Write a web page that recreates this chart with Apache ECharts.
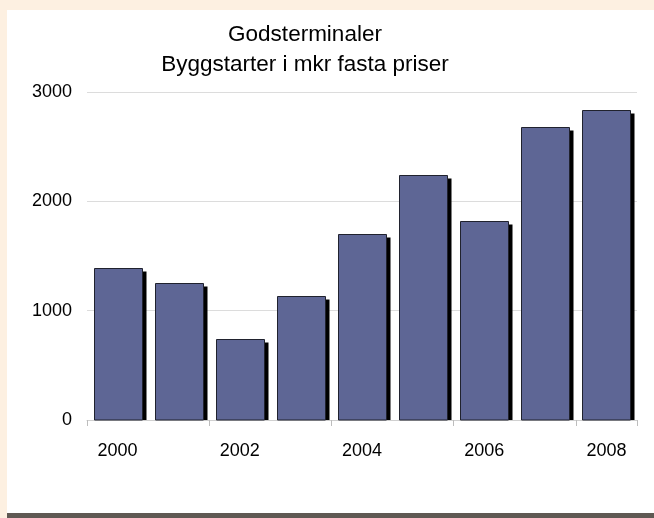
<!DOCTYPE html>
<html>
<head>
<meta charset="utf-8">
<script src="https://cdn.jsdelivr.net/npm/echarts@6/dist/echarts.min.js"></script>
<style>
  html, body { margin: 0; padding: 0; }
  body { width: 654px; height: 518px; background: #fdf0e1; position: relative; overflow: hidden; }
  #panel {
    position: absolute; left: 7px; top: 10px; width: 647px; height: 503px;
    background: #fff; border-bottom: 5px solid #5f5953;
  }
  #chart { width: 647px; height: 503px; }
</style>
</head>
<body>
<div id="panel"><div id="chart"></div></div>
<script>
// Godsterminaler, byggstarter i mkr fasta priser
const years = ["2000", "2001", "2002", "2003", "2004", "2005", "2006", "2007", "2008"];
const values = [1393, 1256, 738, 1137, 1702, 2239, 1823, 2678, 2839];
const yTicks = [0, 1000, 2000, 3000];

const chart = echarts.init(document.getElementById("chart"));
const font = "'Liberation Sans', Arial, sans-serif";
const barW = 48;

// bar with a hard black drop shadow, drawn through the axis scales
function renderBar(params, api) {
  const base = api.coord([api.value(0), 0]);
  const top = api.coord([api.value(0), api.value(1)]);
  const x = Math.round(top[0] - barW / 2) + 0.5;
  const y = Math.round(top[1]) + 0.5;
  const h = base[1] - y;
  return {
    type: "group",
    children: [
      { type: "rect", shape: { x: x + 4, y: y + 3, width: barW, height: h - 3 }, style: { fill: "#000" } },
      { type: "rect", shape: { x: x, y: y, width: barW, height: h }, style: { fill: "#5e6695", stroke: "#20222e", lineWidth: 1 } },
    ],
  };
}

chart.setOption({
  animation: false,
  title: {
    text: "Godsterminaler\nByggstarter i mkr fasta priser",
    left: 298,
    top: 10,
    padding: 0,
    textAlign: "center",
    textStyle: { fontFamily: font, fontSize: 22.5, fontWeight: "normal", color: "#000", lineHeight: 30 },
  },
  grid: { left: 80, right: 17, top: 82, bottom: 93 },
  xAxis: {
    type: "category",
    data: years,
    axisLine: { show: true, lineStyle: { color: "#d0d0d0" } },
    axisTick: { show: true, length: 6, lineStyle: { color: "#bdbdbd" } },
    axisLabel: { interval: 1, margin: 22, color: "#000", fontFamily: font, fontSize: 18 },
  },
  yAxis: {
    type: "value",
    min: yTicks[0],
    max: yTicks[yTicks.length - 1],
    interval: 1000,
    axisLine: { show: false },
    axisTick: { show: false },
    axisLabel: { margin: 15, color: "#000", fontFamily: font, fontSize: 18, formatter: (v) => String(v) },
    splitLine: { lineStyle: { color: "#dcdcdc" } },
  },
  series: [
    {
      type: "custom",
      renderItem: renderBar,
      data: values.map((v, i) => [i, v]),
      encode: { x: 0, y: 1 },
    },
  ],
});
</script>
</body>
</html>
